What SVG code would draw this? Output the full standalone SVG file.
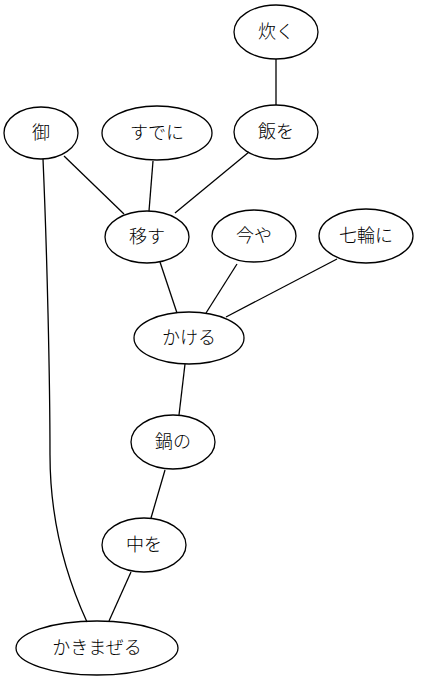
<svg xmlns="http://www.w3.org/2000/svg" width="433" height="681" viewBox="0 0 433 681">
  <style>
    .node ellipse { fill: none; stroke: #000; stroke-width: 1.3; }
    .node text { font-family: "Liberation Serif", "Noto Sans CJK JP", serif; font-size: 18px; font-weight: 300; text-anchor: middle; fill: #000; }
    .edges path { fill: none; stroke: #000; stroke-width: 1.3; }
  </style>
  <rect width="433" height="681" fill="#fff"/>

  <g class="edges" id="edges">
    <path d="M276,59 L276,105"/>
    <path d="M249,152 L175,213"/>
    <path d="M153,161 L149,211"/>
    <path d="M64,156 L124,214"/>
    <path d="M160,262 L177,313"/>
    <path d="M237,264 L206,313"/>
    <path d="M337,259 L226,317"/>
    <path d="M185,364 L179,415"/>
    <path d="M165,470 L151,518"/>
    <path d="M131,572 L109,621"/>
    <path d="M43,159 C47,250 50,380 50,455 C50,530 70,585 87,622"/>
  </g>

  <g class="node" id="n-taku">
    <ellipse cx="276" cy="32" rx="42" ry="27"/>
    <text x="276" y="38">炊く</text>
  </g>
  <g class="node" id="n-meshi">
    <ellipse cx="276" cy="132" rx="42" ry="27"/>
    <text x="276" y="138">飯を</text>
  </g>
  <g class="node" id="n-go">
    <ellipse cx="41" cy="133" rx="37" ry="26"/>
    <text x="41" y="139">御</text>
  </g>
  <g class="node" id="n-sudeni">
    <ellipse cx="157" cy="133" rx="55" ry="27"/>
    <text x="157" y="139">すでに</text>
  </g>
  <g class="node" id="n-utsusu">
    <ellipse cx="147" cy="237" rx="42" ry="26"/>
    <text x="147" y="243">移す</text>
  </g>
  <g class="node" id="n-imaya">
    <ellipse cx="254" cy="236" rx="42" ry="26"/>
    <text x="254" y="242">今や</text>
  </g>
  <g class="node" id="n-shichirin">
    <ellipse cx="366" cy="236" rx="47" ry="27"/>
    <text x="366" y="242">七輪に</text>
  </g>
  <g class="node" id="n-kakeru">
    <ellipse cx="189" cy="338" rx="55" ry="26"/>
    <text x="189" y="344">かける</text>
  </g>
  <g class="node" id="n-nabe">
    <ellipse cx="173" cy="442" rx="42" ry="27"/>
    <text x="173" y="448">鍋の</text>
  </g>
  <g class="node" id="n-naka">
    <ellipse cx="144" cy="545" rx="42" ry="27"/>
    <text x="144" y="551">中を</text>
  </g>
  <g class="node" id="n-kakimazeru">
    <ellipse cx="97" cy="648" rx="81" ry="27"/>
    <text x="97" y="654">かきまぜる</text>
  </g>
</svg>
